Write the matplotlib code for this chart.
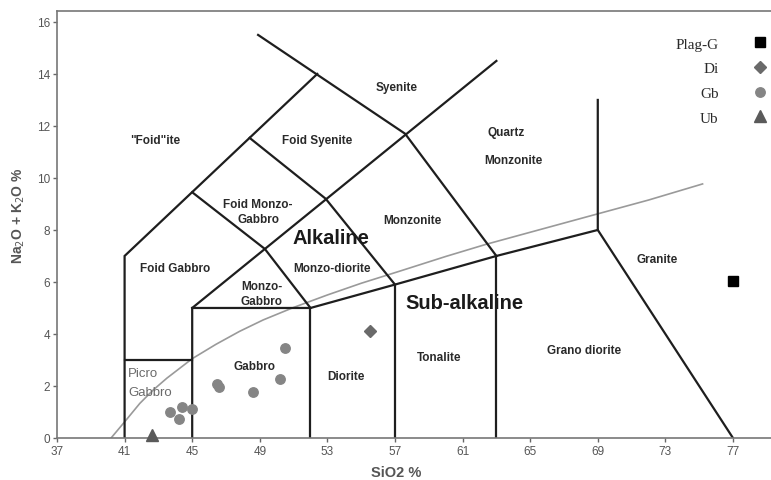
import matplotlib
matplotlib.use("Agg")
import matplotlib.pyplot as plt

# ---- data ----
plag_x = [77.0]
plag_y = [6.05]
di_x = [55.5]
di_y = [4.1]
gb_x = [50.5, 50.2, 48.6, 46.45, 46.6, 45.0, 44.4, 43.7, 44.2]
gb_y = [3.45, 2.27, 1.75, 2.06, 1.95, 1.13, 1.2, 1.0, 0.73]
ub_x = [42.6]
ub_y = [0.12]

# alkaline / sub-alkaline divide (gray curve)
div_x = [40.2, 41.0, 41.9, 42.7, 43.5, 44.3, 45.0, 46.4, 47.8, 49.2, 51.0, 53.0, 55.0, 57.3, 60.0, 62.4, 65.5, 69.0, 72.0, 75.2]
div_y = [0.0, 0.62, 1.33, 1.85, 2.3, 2.7, 3.05, 3.6, 4.1, 4.54, 5.02, 5.5, 5.95, 6.42, 6.98, 7.45, 8.0, 8.62, 9.15, 9.77]

# field boundaries (SiO2, Na2O+K2O)
boundaries = [
    [(41, 0), (41, 7), (52.4, 14.0)],
    [(48.9, 15.5), (57.6, 11.7), (63, 7)],
    [(45, 5), (63, 14.5)],
    [(45, 0), (45, 5), (52, 5), (57, 5.9), (63, 7), (69, 8)],
    [(41, 3), (45, 3)],
    [(52, 0), (52, 5)],
    [(57, 0), (57, 5.9)],
    [(63, 0), (63, 7)],
    [(69, 13), (69, 8), (77, 0)],
    [(45, 9.45), (49.3, 7.27), (52, 5)],
    [(48.4, 11.54), (52.9, 9.2), (57, 5.9)],
]

field_labels = [
    ("Syenite", 57.1, 13.5),
    ('"Foid"ite', 42.8, 11.45),
    ("Foid Syenite", 52.4, 11.45),
    ("Quartz", 63.6, 11.75),
    ("Monzonite", 64.0, 10.7),
    ("Foid Monzo-\nGabbro", 48.9, 8.7),
    ("Monzonite", 58.0, 8.4),
    ("Monzo-diorite", 53.3, 6.55),
    ("Foid Gabbro", 44.0, 6.55),
    ("Monzo-\nGabbro", 49.1, 5.55),
    ("Granite", 72.5, 6.9),
    ("Gabbro", 48.7, 2.75),
    ("Diorite", 54.1, 2.38),
    ("Tonalite", 59.6, 3.1),
    ("Grano diorite", 68.2, 3.38),
]
big_labels = [("Alkaline", 53.2, 7.7), ("Sub-alkaline", 61.1, 5.2)]

x_ticks = [37, 41, 45, 49, 53, 57, 61, 65, 69, 73, 77]
y_ticks = [0, 2, 4, 6, 8, 10, 12, 14, 16]

# ---- figure ----
plt.rcParams['font.family'] = ['Liberation Sans', 'DejaVu Sans']
fig = plt.figure(figsize=(7.71, 4.81), dpi=100)
ax = fig.add_axes([57 / 771, 42 / 481, 714 / 771, 427 / 481])
ax.set_xlim(37, 79.25)
ax.set_ylim(0, 16.42)

for seg in boundaries:
    xs = [p[0] for p in seg]
    ys = [p[1] for p in seg]
    ax.plot(xs, ys, color='#1e1e1e', lw=1.6, solid_joinstyle='miter', zorder=2)

ax.plot(div_x, div_y, color='#9a9a9a', lw=1.2, zorder=1)

for t, x, y in field_labels:
    ax.text(x, y, t, ha='center', va='center', fontsize=8.5, fontweight='bold',
            color='#2a2a2a', linespacing=1.3)
for t, x, y in big_labels:
    ax.text(x, y, t, ha='center', va='center', fontsize=14.5, fontweight='bold',
            color='#1a1a1a')
ax.text(41.2, 2.5, "Picro", ha='left', va='center', fontsize=9.5, color='#6a6a6a')
ax.text(41.2, 1.77, "Gabbro", ha='left', va='center', fontsize=9.5, color='#6a6a6a')

h1, = ax.plot(plag_x, plag_y, 's', color='black', ms=7.5, ls='none', clip_on=False, zorder=4)
h2, = ax.plot(di_x, di_y, 'D', color='#6a6a6a', ms=6, ls='none', clip_on=False, zorder=4)
h3, = ax.plot(gb_x, gb_y, 'o', color='#858585', ms=6.8, ls='none', clip_on=False, zorder=4)
h4, = ax.plot(ub_x, ub_y, '^', color='#5a5a5a', ms=8.5, ls='none', clip_on=False, zorder=4)

leg = ax.legend([h1, h2, h3, h4], ["Plag-G", "Di", "Gb", "Ub"], markerfirst=False,
                frameon=False, loc='upper right', bbox_to_anchor=(772 / 771, 1 - 35 / 481),
                bbox_transform=fig.transFigure,
                prop={'family': 'Liberation Serif', 'size': 11}, labelspacing=0.72,
                handlelength=1.2, handletextpad=2.1, borderaxespad=0, borderpad=0.2)
for t in leg.get_texts():
    t.set_color('#2a2a2a')

ax.set_xticks(x_ticks)
ax.set_yticks(y_ticks)
ax.tick_params(axis='both', colors='#666666', labelcolor='#555555', labelsize=8.5,
               length=3, width=1, direction='out', pad=2)
for s in ['left', 'bottom', 'top']:
    ax.spines[s].set_color('#777777')
    ax.spines[s].set_linewidth(1.2)
ax.spines['right'].set_visible(False)

ax.set_xlabel("SiO2 %", fontsize=10.5, fontweight='bold', color='#555555')
ax.xaxis.set_label_coords((396 - 57) / 714, (439 - 466) / 427)
ax.set_ylabel("Na$_2$O + K$_2$O %", fontsize=10, fontweight='bold', color='#555555')
ax.yaxis.set_label_coords((27 - 57) / 714, (439 - 216) / 427)

fig.savefig("out.png", dpi=100)
